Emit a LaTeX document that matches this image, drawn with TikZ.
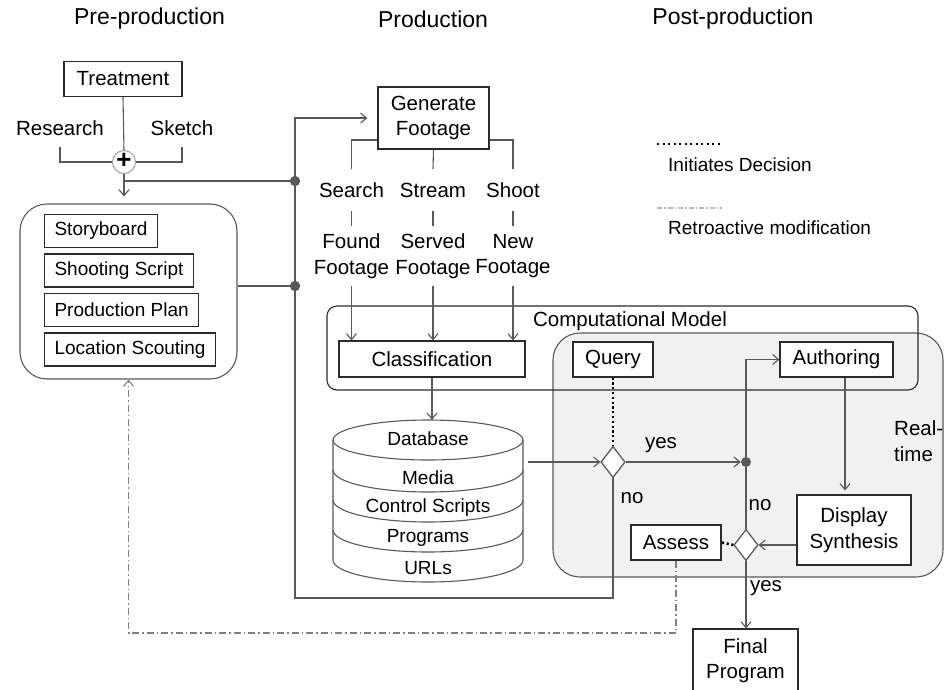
\documentclass[tikz,border=0pt]{standalone}
\usepackage{fontspec}
\setmainfont{Liberation Sans}
\usetikzlibrary{arrows.meta,shapes.geometric}

\definecolor{linec}{HTML}{595959}
\definecolor{boxc}{HTML}{2B2B2B}
\definecolor{panel}{HTML}{F1F1F1}

\newcommand{\fsTitle}{\fontsize{23}{27}\selectfont}
\newcommand{\fsLabel}{\fontsize{20.5}{25.5}\selectfont}
\newcommand{\fsSmall}{\fontsize{19}{23}\selectfont}

\begin{document}
\begin{tikzpicture}[x=1pt,y=-1pt,
  >={Straight Barb[length=6pt,width=10pt]},
  every node/.style={inner sep=0pt, text=black},
  conn/.style={draw=linec, line width=1.1pt},
  box/.style={draw=boxc, line width=1.1pt, fill=white, font=\fsLabel, align=center},
  listbox/.style={draw=boxc, line width=1.1pt, fill=white, font=\fsSmall, anchor=west,
                  inner xsep=10pt, minimum height=33pt},
  lbl/.style={font=\fsLabel, align=center},
  dblbl/.style={font=\fsSmall},
  title/.style={font=\fsTitle},
  decision/.style={diamond, draw=linec, line width=1.1pt, fill=white,
                   minimum width=24pt, minimum height=31pt},
  junction/.style={circle, fill=linec, minimum size=10pt},
  initiates/.style={draw=black, line width=2.6pt, dash pattern=on 2.2pt off 2.6pt},
  legdots/.style={draw=black, line width=2pt, dash pattern=on 2pt off 3.5pt},
  retro/.style={draw=gray, line width=1.1pt, dash pattern=on 7pt off 3pt on 1.5pt off 3pt},
  legretro/.style={draw=gray!55, line width=1.2pt, dash pattern=on 5pt off 2pt on 1.5pt off 2pt},
  dbline/.style={draw=linec, line width=1.1pt},
]
\clip (0,0) rectangle (945,689);
\fill[white] (0,0) rectangle (945,689);

% ---- phase headings
\node[title] (hpre)  at (149.5,19) {Pre-production};
\node[title] (hprod) at (433,19)   {Production};
\node[title] (hpost) at (733,19)   {Post-production};

% ---- background panels
\node[draw=linec, line width=1.1pt, fill=panel, rounded corners=27pt,
      minimum width=390pt, minimum height=244pt] (rt) at (748,455) {};
\node[draw=boxc, line width=1.1pt, rounded corners=10pt,
      minimum width=591pt, minimum height=84pt] (cm) at (622.5,348) {};
\node[lbl] (cmlbl) at (630,321) {Computational Model};
\node[lbl, align=left, anchor=west] (rtlbl) at (894,441) {Real-\\time};

% ---- pre-production
\node[box, minimum width=118pt, minimum height=35pt] (treat) at (123,79) {Treatment};
\node[lbl, minimum height=38pt] (research) at (60,128) {Research};
\node[lbl, minimum height=38pt] (sketch) at (182,128) {Sketch};
\node[circle, draw=gray!75, line width=1pt, fill=white, minimum size=23pt,
      font=\fontsize{26}{26}\selectfont\bfseries] (plus) at (124,162) {\raisebox{1.5pt}{+}};

\node[draw=linec, line width=1.1pt, rounded corners=27pt,
      minimum width=217pt, minimum height=175pt] (prepro) at (128.5,291.5) {};
\node[listbox] (story) at (44,231)   {Storyboard};
\node[listbox] (shoot) at (44,270.5) {Shooting Script};
\node[listbox] (plan)  at (44,310)   {Production Plan};
\node[listbox] (loc)   at (44,349.5) {Location Scouting};

% ---- production
\node[box, minimum width=111pt, minimum height=62pt] (gen) at (433.5,118) {Generate\\Footage};
\node[lbl, minimum height=42pt] (search) at (351.5,190) {Search};
\node[lbl, minimum height=42pt] (stream) at (433,190)   {Stream};
\node[lbl, minimum height=42pt] (shootl) at (513,190)   {Shoot};
\node[lbl, minimum height=60pt] (found)  at (351.5,256) {Found\\Footage};
\node[lbl, minimum height=60pt] (served) at (433,256)   {Served\\Footage};
\node[lbl, minimum height=60pt] (newf)   at (513,256)   {New\\Footage};
\node[box, minimum width=186pt, minimum height=36pt] (cls) at (432,359) {Classification};

% database stack
\node[minimum width=190pt, minimum height=162pt] (db) at (428,501) {};
\fill[white] (333,440) -- (333,560) arc[start angle=180,end angle=360,x radius=95pt,y radius=22pt]
  -- (523,440) arc[start angle=0,end angle=180,x radius=95pt,y radius=20pt] -- cycle;
\draw[dbline] (333,440) -- (333,560) arc[start angle=180,end angle=360,x radius=95pt,y radius=22pt]
  -- (523,440);
\draw[dbline] (428,440) ellipse[x radius=95pt, y radius=20pt];
\foreach \yy in {470,500,530}
  \draw[dbline] (333,\yy) arc[start angle=180,end angle=360,x radius=95pt,y radius=22pt];
\node[dblbl] (dbname) at (428,439) {Database};
\node[dblbl] (dbmed)  at (428,478) {Media};
\node[dblbl] (dbctl)  at (428,508) {Control Scripts};
\node[dblbl] (dbprg)  at (428,538) {Programs};
\node[dblbl] (dburl)  at (428,568) {URLs};

% ---- post-production
\node[box, minimum width=80pt,  minimum height=35pt] (query)  at (613,359.5) {Query};
\node[box, minimum width=113pt, minimum height=35pt] (auth)   at (836.5,359.5) {Authoring};
\node[box, minimum width=114pt, minimum height=70pt] (disp)   at (854,530) {Display\\Synthesis};
\node[box, minimum width=90pt,  minimum height=35pt] (assess) at (676,542.5) {Assess};
\node[box, minimum width=105pt, minimum height=63pt] (final)  at (745.5,660.5) {Final\\Program};
\node[decision] (dia1) at (613,462) {};
\node[decision] (dia2) at (746,545) {};
\node[junction] (dot1) at (295,181) {};
\node[junction] (dot2) at (295,286) {};

% ---- connectors: pre-production
\draw[conn] (treat.south) -- (plus.north);
\draw[conn] (research.south) |- (plus.west);
\draw[conn] (sketch.south) |- (plus.east);
\draw[conn,->,shorten >=7pt] (plus.south) -- (plus.south |- prepro.north);
\draw[conn] (plus.south |- dot1) -- (dot1);
\draw[conn] (prepro.east |- dot2) -- (dot2);

% feedback loop from the query decision back to footage generation
\coordinate (loopA) at (295,598);
\coordinate (loopB) at (295,118);
\draw[conn,->,shorten >=10pt] (dia1.south) |- (loopA) -- (loopB) -- (gen.west);
\node[junction] at (dot1) {};
\node[junction] at (dot2) {};

% ---- connectors: production
\draw[conn] ([yshift=-22pt]gen.west) -| (search.north);
\draw[conn] ([yshift=-22pt]gen.east) -| (shootl.north);
\draw[conn] (gen.south) -- (stream.north);
\draw[conn] (search.south) -- (found.north);
\draw[conn] (stream.south) -- (served.north);
\draw[conn] (shootl.south) -- (newf.north);
\draw[conn,->] (found.south) -- (found.south |- cls.north);
\draw[conn,->] (served.south) -- (served.south |- cls.north);
\draw[conn,->] (newf.south) -- (newf.south |- cls.north);
\draw[conn,->] (cls.south) -- (cls.south |- db.north);
\draw[conn,->,shorten <=5pt] (db.east |- dia1) -- (dia1.west);

% ---- connectors: post-production
\draw[initiates] (query.south) -- (dia1.north);
\node[junction] (dot3) at (746,462) {};
\draw[conn,->] (dia1.east) -- (dot3.west);
\draw[conn,->] (dot3) |- (auth.west);
\draw[conn] (dia2.north) -- (dot3);
\draw[conn,->,shorten >=4pt] ([xshift=8.5pt]auth.south) -- ([xshift=-9pt]disp.north);
\draw[conn,->] (disp.west |- dia2) -- (dia2.east);
\draw[initiates] (dia2.west) -- (assess.east);
\draw[conn,->] (dia2.south) -- (dia2.south |- final.north);
\node[decision] at (dia1) {};
\node[decision] at (dia2) {};

\node[lbl] (yes1) at (661,445) {yes};
\node[lbl] (no1)  at (632,498) {no};
\node[lbl] (no2)  at (760,505) {no};
\node[lbl] (yes2) at (766,588) {yes};

% retroactive modification back to the planning documents
\coordinate (retc) at (128.5,633);
\draw[retro,->] (assess.south) |- (retc) -- (prepro.south);

% ---- legend
\coordinate (lgA) at (657,144);
\coordinate (lgB) at (722,144);
\draw[legdots] (lgA) -- (lgB);
\node[font=\fsSmall, anchor=west] (lgt1) at (668,165) {Initiates Decision};
\coordinate (lgC) at (657,208);
\coordinate (lgD) at (722,208);
\draw[legretro] (lgC) -- (lgD);
\node[font=\fsSmall, anchor=west] (lgt2) at (668,228) {Retroactive modification};
\end{tikzpicture}
\end{document}
